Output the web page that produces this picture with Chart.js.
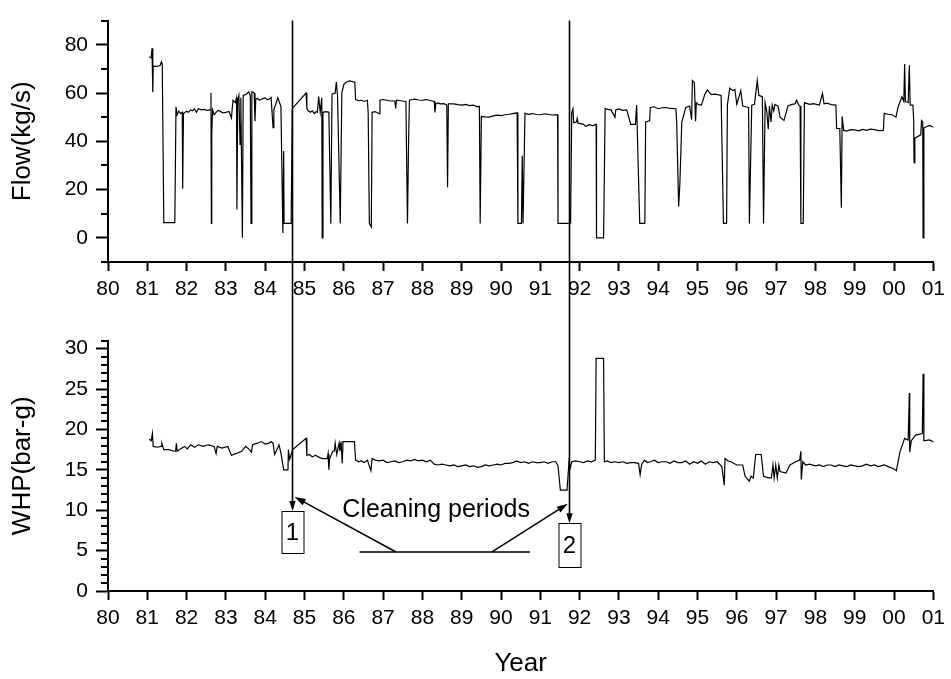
<!DOCTYPE html>
<html>
<head>
<meta charset="utf-8">
<script src="https://cdn.jsdelivr.net/npm/chart.js"></script>
<style>
body { margin:0; background:#fff }
canvas { position:absolute; left:0 }
</style>
</head>
<body>
<canvas id="flow" width="951" height="320" style="top:0"></canvas>
<canvas id="whp" width="951" height="359" style="top:320px"></canvas>
<canvas id="notes" width="951" height="679" style="top:0"></canvas>
<script>
const FONT = "'Liberation Sans', Arial, sans-serif";

// ===== DATA =====
const yearLabels = ['80','81','82','83','84','85','86','87','88','89','90',
  '91','92','93','94','95','96','97','98','99','00','01'];
const flowTicks = [0, 20, 40, 60, 80];
const whpTicks = [0, 5, 10, 15, 20, 25, 30];

const flowYears = [
  81.05, 81.10, 81.12, 81.14, 81.15, 81.25, 81.33, 81.36, 81.38, 81.42,
  81.70, 81.73, 81.76, 81.80, 81.85, 81.89, 81.90, 81.92, 82.00, 82.05,
  82.10, 82.15, 82.20, 82.25, 82.30, 82.38, 82.45, 82.52, 82.60, 82.62,
  82.63, 82.64, 82.66, 82.70, 82.75, 82.80, 82.85, 82.92, 83.00, 83.08,
  83.14, 83.18, 83.24, 83.27, 83.28, 83.30, 83.33, 83.36, 83.38, 83.42,
  83.44, 83.52, 83.58, 83.62, 83.64, 83.66, 83.72, 83.74, 83.76, 83.80,
  83.85, 83.92, 84.00, 84.05, 84.10, 84.15, 84.20, 84.22, 84.32, 84.40,
  84.45, 84.47, 84.48, 84.66, 84.69, 85.04, 85.06, 85.10, 85.15, 85.20,
  85.25, 85.30, 85.33, 85.36, 85.40, 85.44, 85.45, 85.47, 85.55, 85.62,
  85.67, 85.70, 85.78, 85.81, 85.84, 85.91, 85.95, 86.00, 86.05, 86.15,
  86.22, 86.28, 86.30, 86.38, 86.45, 86.52, 86.60, 86.62, 86.65, 86.70,
  86.72, 86.80, 86.85, 86.90, 86.92, 87.00, 87.10, 87.20, 87.30, 87.32,
  87.34, 87.45, 87.58, 87.62, 87.65, 87.67, 87.75, 87.80, 87.90, 88.00,
  88.10, 88.20, 88.30, 88.32, 88.34, 88.40, 88.45, 88.55, 88.62, 88.64,
  88.66, 88.80, 88.90, 89.00, 89.10, 89.20, 89.30, 89.38, 89.45, 89.47,
  89.50, 89.60, 89.70, 89.80, 89.90, 90.00, 90.10, 90.20, 90.30, 90.41,
  90.43, 90.52, 90.54, 90.56, 90.61, 90.70, 90.80, 90.90, 91.00, 91.10,
  91.20, 91.30, 91.44, 91.45, 91.77, 91.80, 91.83, 91.85, 91.92, 91.94,
  91.96, 92.02, 92.10, 92.15, 92.20, 92.25, 92.32, 92.42, 92.43, 92.61,
  92.65, 92.72, 92.80, 92.90, 92.92, 93.00, 93.10, 93.20, 93.30, 93.42,
  93.45, 93.53, 93.66, 93.68, 93.78, 93.80, 93.90, 94.00, 94.10, 94.20,
  94.30, 94.45, 94.47, 94.52, 94.55, 94.60, 94.70, 94.80, 94.85, 94.87,
  94.92, 94.95, 94.97, 95.03, 95.10, 95.18, 95.25, 95.35, 95.45, 95.60,
  95.66, 95.74, 95.76, 95.82, 95.90, 95.95, 96.00, 96.10, 96.15, 96.22,
  96.30, 96.32, 96.38, 96.45, 96.52, 96.56, 96.65, 96.68, 96.72, 96.76,
  96.80, 96.83, 96.87, 96.90, 96.94, 96.97, 97.05, 97.10, 97.20, 97.30,
  97.40, 97.48, 97.52, 97.58, 97.61, 97.63, 97.69, 97.72, 97.85, 97.95,
  98.10, 98.18, 98.22, 98.30, 98.40, 98.52, 98.54, 98.62, 98.66, 98.68,
  98.72, 98.80, 98.90, 99.00, 99.10, 99.20, 99.30, 99.40, 99.50, 99.60,
  99.73, 99.75, 99.85, 99.95, 100.05, 100.10, 100.20, 100.25, 100.27, 100.29,
  100.36, 100.39, 100.41, 100.48, 100.50, 100.51, 100.53, 100.68, 100.70, 100.73,
  100.74, 100.76, 100.90, 101.03
];
const flowValues = [
  75, 74.5, 78.5, 60.3, 71, 71, 71.5, 73, 72, 6.3,
  6.3, 54.3, 51, 52.5, 51.5, 52, 20.3, 51.5, 52.5, 52,
  53, 52.6, 53.5, 52, 53.5, 53, 53.2, 52.8, 53, 60,
  6, 42.7, 53, 51, 52, 52.8, 52.5, 51.8, 52, 52.4,
  49.7, 57, 56, 58, 11.7, 57, 59, 38.7, 58, 0,
  59, 59.5, 60.5, 59, 6, 60.5, 60, 48.3, 57.5, 57.8,
  57, 57.6, 58, 57.2, 57.5, 58.2, 45.7, 53, 58, 54.5,
  2, 36, 6, 6, 53.6, 60, 53.6, 52.5, 52, 52.6,
  51.5, 52.3, 52, 58.5, 52, 58, 0, 52, 52.3, 52,
  6, 59.5, 60, 64.5, 59, 6, 60, 63.5, 64.5, 65,
  64.7, 64.5, 57.3, 56.8, 57, 56.5, 57, 52, 6, 4.5,
  52, 52.3, 51.8, 51.5, 57, 57.3, 57, 56.7, 56.7, 53.6,
  57, 56.8, 56.5, 6, 42, 57, 57.3, 57.5, 57.1, 57,
  57.3, 56.9, 56.5, 52, 55.5, 55.9, 55.5, 55.6, 55, 21,
  55.5, 55.5, 55.2, 55, 55.3, 54.8, 55, 54.4, 54.5, 6,
  50.3, 50.1, 50, 50.5, 50.8, 50.6, 51, 51.2, 51.5, 51.8,
  6, 6, 34, 6, 51.6, 51.2, 51.5, 51.1, 51, 51.4,
  51.2, 50.9, 51, 6, 6, 52, 53.5, 47.7, 48, 49.5,
  47.5, 47.3, 47, 46.2, 46.5, 47, 46.4, 47, 0, 0,
  53.6, 53.2, 53, 50, 53, 53.4, 52.8, 53, 47, 47,
  55, 6, 6, 48, 48.5, 54, 54.3, 53.5, 53.9, 54,
  53.6, 53.5, 48, 13, 22, 48, 54, 54.6, 49, 65.2,
  64.3, 48.3, 56, 55.2, 55, 59.2, 61.3, 59.3, 59.5, 59,
  6, 6, 55, 62, 61, 61.5, 55.3, 61, 54.6, 54.3,
  54, 6, 55, 55.3, 65.2, 59, 58.5, 6, 56, 52.6,
  45, 54.6, 48, 55, 52.6, 55.3, 54.6, 50, 48.6, 54.6,
  55.3, 55.5, 57, 55, 54.6, 6, 6, 56, 55.3, 55.6,
  55, 59.8, 55.5, 55.8, 55.2, 55, 45.3, 45.3, 12.5, 50.3,
  44.5, 44.2, 44.8, 44.7, 44.3, 44.9, 44.5, 45, 44.8, 44.4,
  44.5, 51.6, 51.2, 51, 50, 54, 58.4, 56.6, 72, 56.5,
  56, 71.5, 55, 55, 49, 31.2, 41.3, 42.7, 48.6, 48,
  0, 45.6, 46.6, 45.7
];

const whpYears = [
  81.05, 81.10, 81.13, 81.15, 81.25, 81.35, 81.37, 81.42, 81.55, 81.68,
  81.72, 81.74, 81.76, 81.85, 81.95, 82.02, 82.10, 82.20, 82.30, 82.42,
  82.55, 82.70, 82.75, 82.78, 82.90, 83.05, 83.14, 83.25, 83.40, 83.50,
  83.58, 83.65, 83.68, 83.80, 83.90, 84.00, 84.10, 84.15, 84.20, 84.24,
  84.28, 84.35, 84.40, 84.47, 84.58, 84.59, 84.62, 84.66, 84.70, 85.04,
  85.06, 85.12, 85.20, 85.28, 85.35, 85.45, 85.58, 85.60, 85.62, 85.64,
  85.72, 85.76, 85.78, 85.82, 85.88, 85.90, 85.93, 85.96, 85.98, 86.27,
  86.30, 86.38, 86.45, 86.52, 86.60, 86.69, 86.72, 86.80, 86.90, 87.00,
  87.10, 87.20, 87.30, 87.40, 87.50, 87.60, 87.70, 87.80, 87.90, 88.00,
  88.10, 88.20, 88.30, 88.40, 88.50, 88.60, 88.70, 88.80, 88.90, 89.00,
  89.10, 89.20, 89.30, 89.40, 89.50, 89.60, 89.70, 89.80, 89.90, 90.00,
  90.10, 90.20, 90.30, 90.40, 90.50, 90.60, 90.70, 90.80, 90.90, 91.00,
  91.10, 91.20, 91.30, 91.39, 91.45, 91.51, 91.68, 91.73, 91.76, 91.80,
  91.90, 92.00, 92.10, 92.20, 92.30, 92.40, 92.42, 92.61, 92.63, 92.70,
  92.80, 92.90, 93.00, 93.10, 93.20, 93.30, 93.40, 93.50, 93.54, 93.58,
  93.65, 93.72, 93.80, 93.90, 94.00, 94.10, 94.20, 94.30, 94.40, 94.50,
  94.60, 94.70, 94.80, 94.90, 95.00, 95.10, 95.20, 95.30, 95.40, 95.50,
  95.62, 95.68, 95.70, 95.78, 95.85, 96.00, 96.15, 96.21, 96.28, 96.32,
  96.36, 96.42, 96.48, 96.62, 96.68, 96.80, 96.88, 96.92, 96.95, 96.99,
  97.03, 97.07, 97.10, 97.25, 97.35, 97.50, 97.60, 97.63, 97.64, 97.68,
  97.75, 97.85, 98.00, 98.10, 98.20, 98.30, 98.40, 98.50, 98.60, 98.70,
  98.80, 98.90, 99.00, 99.10, 99.20, 99.30, 99.40, 99.50, 99.60, 99.75,
  99.90, 100.00, 100.06, 100.15, 100.27, 100.36, 100.39, 100.40, 100.44, 100.55,
  100.72, 100.74, 100.76, 100.90, 101.03
];
const whpValues = [
  18.8, 18.6, 19.5, 17.9, 17.8, 17.9, 18.3, 17.5, 17.5, 17.3,
  17.3, 18.3, 17.3, 17.6, 17.9, 17.6, 18.1, 17.8, 18.1, 17.9,
  18.1, 17.9, 17.0, 17.9, 17.7, 17.9, 16.8, 17.0, 17.3, 17.9,
  17.6, 17.2, 18.1, 18.3, 18.5, 18.2, 18.3, 18.5, 18.3, 16.9,
  17.3, 18.1, 17.1, 15.0, 15.0, 17.5, 16.3, 16.9, 17.5, 18.9,
  16.8, 16.9, 16.6, 16.8, 16.6, 16.4, 16.4, 17.0, 15.0, 16.4,
  17.3, 17.3, 18.3, 16.9, 18.3, 17.3, 18.5, 15.8, 18.5, 18.5,
  16.2, 16.0, 16.1, 15.9, 16.2, 14.9, 16.4, 16.2, 16.1, 16.2,
  15.9, 16.0, 16.1, 15.9, 16.0, 16.2, 16.1, 16.3, 16.1, 16.2,
  16.0, 16.2, 15.7, 15.6, 15.7, 15.6, 15.5, 15.6, 15.4, 15.5,
  15.6, 15.4, 15.5, 15.3, 15.4, 15.6, 15.5, 15.6, 15.7, 15.6,
  15.8, 15.8, 15.9, 16.1, 15.9, 16.0, 15.8, 16.0, 15.9, 15.9,
  16.0, 15.8, 16.0, 16.0, 15.5, 12.5, 12.5, 16.0, 15.2, 16.0,
  16.1, 16.0, 15.9, 16.1, 16.0, 16.2, 28.8, 28.8, 16.0, 16.1,
  15.9, 16.0, 15.9, 16.0, 15.8, 15.9, 15.9, 15.8, 14.4, 15.7,
  16.2, 15.9, 16.0, 16.2, 15.9, 16.0, 16.0, 15.8, 16.1, 15.9,
  15.9, 16.1, 15.7, 16.0, 15.8, 16.1, 15.7, 16.0, 15.9, 16.0,
  15.4, 13.1, 16.4, 16.1, 16.0, 15.6, 15.6, 14.2, 13.8, 13.6,
  14.2, 14.0, 16.9, 16.9, 14.2, 14.0, 14.0, 15.6, 14.0, 15.6,
  14.0, 15.6, 14.8, 14.6, 15.6, 16.0, 16.2, 17.3, 13.8, 16.0,
  15.6, 15.7, 15.5, 15.6, 15.4, 15.6, 15.6, 15.4, 15.6, 15.5,
  15.4, 15.6, 15.5, 15.4, 15.5, 15.7, 15.5, 15.6, 15.4, 15.6,
  15.3, 15.1, 14.9, 17.2, 18.9, 18.7, 24.5, 17.2, 18.6, 19.3,
  19.5, 26.9, 18.6, 18.7, 18.4
];

// cleaning periods (year) and their box labels
const cleaningYears = [84.69, 91.73];
const cleaningLabels = ['1', '2'];

// annotation layout, in data units of the WHP panel
const boxTops = [9.9, 8.4];
const boxBottoms = [4.7, 3.0];
const noteBar = { from: 86.4, to: 90.74, at: 4.83 };
const noteArrows = [
  { fromX: 87.33, toX: 84.75, toY: 11.65 },
  { fromX: 89.77, toX: 91.70, toY: 10.8 }
];
const noteText = { x: 88.35, y: 10.0, text: 'Cleaning periods' };

// ===== CHARTS =====
const minorTicks = {
  id: 'minorTicks',
  afterDraw(chart, args, opts) {
    const y = chart.scales.y, ctx = chart.ctx;
    ctx.save();
    ctx.strokeStyle = '#000';
    ctx.lineWidth = 2;
    ctx.beginPath();
    opts.values.forEach(v => {
      const py = Math.round(y.getPixelForValue(v));
      ctx.moveTo(y.right, py);
      ctx.lineTo(y.right - opts.length, py);
    });
    ctx.stroke();
    ctx.restore();
  }
};

function panel(id, years, values, y, xTitle, padTop, xHeight) {
  return new Chart(document.getElementById(id), {
    type: 'line',
    data: {
      datasets: [{
        data: years.map((x, i) => ({ x, y: values[i] })),
        borderColor: '#000',
        borderWidth: 1.2,
        pointRadius: 0,
        tension: 0
      }]
    },
    options: {
      responsive: false,
      animation: false,
      devicePixelRatio: 1,
      layout: { padding: { top: padTop, right: 15, left: 0, bottom: 0 } },
      plugins: {
        legend: { display: false },
        tooltip: { enabled: false },
        minorTicks: { values: y.minor, length: 7 }
      },
      scales: {
        x: {
          type: 'linear', min: 80, max: 101,
          afterFit: s => { s.height = xHeight; },
          border: { display: true, color: '#000', width: 2 },
          grid: { drawOnChartArea: false, tickLength: 9, tickWidth: 2, tickColor: '#000' },
          ticks: {
            stepSize: 1, autoSkip: false, maxRotation: 0, padding: 6,
            color: '#000', font: { family: FONT, size: 21 },
            callback: v => yearLabels[Math.round(v) - 80]
          },
          title: {
            display: !!xTitle, text: xTitle, color: '#000',
            font: { family: FONT, size: 26 }, padding: { top: 0, bottom: 0 }
          }
        },
        y: {
          min: y.min, max: y.max,
          afterFit: s => { s.width = 108; },
          afterBuildTicks: s => { s.ticks = y.major.map(v => ({ value: v })); },
          border: { display: true, color: '#000', width: 2 },
          grid: { drawOnChartArea: false, tickLength: 12, tickWidth: 2, tickColor: '#000' },
          ticks: {
            padding: 8, color: '#000', font: { family: FONT, size: 21 }
          },
          title: {
            display: true, text: y.title, color: '#000',
            font: { family: FONT, size: 26 }, padding: { top: 7, bottom: 0 }
          }
        }
      }
    },
    plugins: [minorTicks]
  });
}

const flowChart = panel('flow', flowYears, flowValues,
  { min: -10, max: 90, major: flowTicks, title: 'Flow(kg/s)', minor: [-10, 10, 30, 50, 70, 90] },
  '', 11, 58);

const whpMinor = [];
for (let v = 1; v <= 31; v++) if (v % 5) whpMinor.push(v);
const whpChart = panel('whp', whpYears, whpValues,
  { min: 0, max: 31, major: whpTicks, title: 'WHP(bar-g)', minor: whpMinor },
  'Year', 20, 88);

// ===== NOTES (lines across both panels) =====
const ctx = document.getElementById('notes').getContext('2d');
const xs = whpChart.scales.x, yw = whpChart.scales.y, yf = flowChart.scales.y;
const whpTop = 320;
const px = v => xs.getPixelForValue(v);
const wy = v => whpTop + yw.getPixelForValue(v);

function arrowHead(x1, y1, x2, y2, len, half) {
  const a = Math.atan2(y2 - y1, x2 - x1);
  ctx.beginPath();
  ctx.moveTo(x2, y2);
  ctx.lineTo(x2 - len * Math.cos(a) + half * Math.sin(a), y2 - len * Math.sin(a) - half * Math.cos(a));
  ctx.lineTo(x2 - len * Math.cos(a) - half * Math.sin(a), y2 - len * Math.sin(a) + half * Math.cos(a));
  ctx.closePath();
  ctx.fill();
}

ctx.strokeStyle = '#000';
ctx.fillStyle = '#000';

cleaningYears.forEach((yr, i) => {
  const x = Math.round(px(yr)) + 0.5;
  const top = yf.getPixelForValue(90);
  const tip = wy(boxTops[i]);
  ctx.lineWidth = 1.6;
  ctx.beginPath();
  ctx.moveTo(x, top);
  ctx.lineTo(x, tip - 6);
  ctx.stroke();
  arrowHead(x, top, x, tip, 10, 3.2);

  const bw = 22, bt = Math.round(wy(boxTops[i])) + 0.5, bb = Math.round(wy(boxBottoms[i])) + 0.5;
  ctx.lineWidth = 1;
  ctx.strokeRect(Math.round(x - bw / 2), bt, bw, bb - bt);
  ctx.font = '24px ' + FONT;
  ctx.textAlign = 'center';
  ctx.textBaseline = 'middle';
  ctx.fillText(cleaningLabels[i], x, (bt + bb) / 2 + 1);
});

ctx.lineWidth = 1.5;
ctx.beginPath();
ctx.moveTo(px(noteBar.from), wy(noteBar.at));
ctx.lineTo(px(noteBar.to), wy(noteBar.at));
ctx.stroke();

noteArrows.forEach(a => {
  const x1 = px(a.fromX), y1 = wy(noteBar.at), x2 = px(a.toX), y2 = wy(a.toY);
  ctx.beginPath();
  ctx.moveTo(x1, y1);
  ctx.lineTo(x2 + (x1 - x2) * 0.08, y2 + (y1 - y2) * 0.08);
  ctx.stroke();
  arrowHead(x1, y1, x2, y2, 11, 3.5);
});

ctx.font = '25px ' + FONT;
ctx.textAlign = 'center';
ctx.textBaseline = 'middle';
ctx.fillText(noteText.text, px(noteText.x), wy(noteText.y));
</script>
</body>
</html>
